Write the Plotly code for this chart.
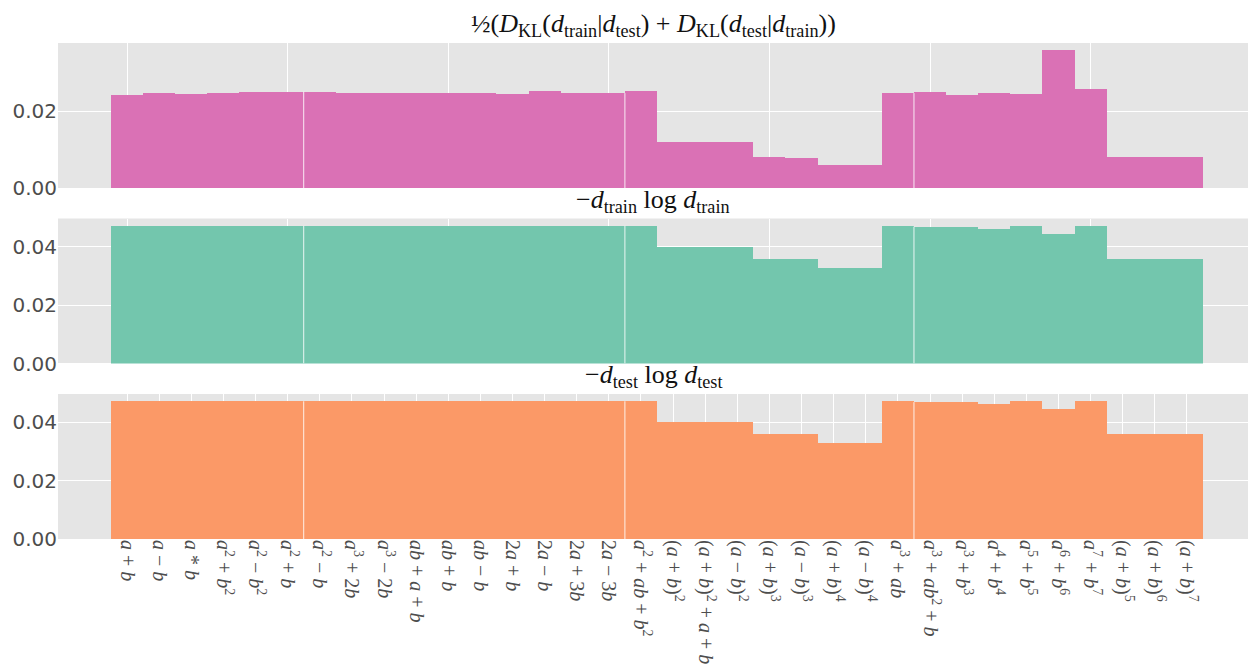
import plotly.graph_objects as go
from plotly.subplots import make_subplots

# ---------------- data ----------------
categories = [
    "a+b", "a-b", "a*b", "a^2+b^2", "a^2-b^2", "a^2+b",
    "a^2-b", "a^3+2b", "a^3-2b", "ab+a+b", "ab+b", "ab-b", "2a+b", "2a-b", "2a+3b", "2a-3b",
    "a^2+ab+b^2", "(a+b)^2", "(a+b)^2+a+b", "(a-b)^2", "(a+b)^3", "(a-b)^3", "(a+b)^4", "(a-b)^4", "a^3+ab",
    "a^3+ab^2+b", "a^3+b^3", "a^4+b^4", "a^5+b^5", "a^6+b^6", "a^7+b^7", "(a+b)^5", "(a+b)^6", "(a+b)^7",
]
group_sizes = [6, 10, 9, 9]

kl_sym = [
    0.0243, 0.0248, 0.0246, 0.0248, 0.0251, 0.0252,
    0.0252, 0.0247, 0.0247, 0.0248, 0.0248, 0.0248, 0.0246, 0.0254, 0.0248, 0.0248,
    0.0254, 0.0121, 0.0121, 0.0121, 0.0082, 0.0079, 0.0061, 0.0061, 0.0248,
    0.0251, 0.0243, 0.0248, 0.0246, 0.0360, 0.0259, 0.0082, 0.0082, 0.0082,
]
ent_train = [
    0.0471, 0.0471, 0.0471, 0.0471, 0.0471, 0.0471,
    0.0471, 0.0471, 0.0471, 0.0471, 0.0471, 0.0471, 0.0471, 0.0471, 0.0471, 0.0471,
    0.0471, 0.0400, 0.0400, 0.0400, 0.0359, 0.0359, 0.0329, 0.0329, 0.0471,
    0.0468, 0.0468, 0.0462, 0.0471, 0.0444, 0.0471, 0.0359, 0.0359, 0.0359,
]
ent_test = [
    0.0471, 0.0471, 0.0471, 0.0471, 0.0471, 0.0471,
    0.0471, 0.0471, 0.0471, 0.0471, 0.0471, 0.0471, 0.0471, 0.0471, 0.0471, 0.0471,
    0.0471, 0.0400, 0.0400, 0.0400, 0.0359, 0.0359, 0.0329, 0.0329, 0.0471,
    0.0468, 0.0468, 0.0462, 0.0471, 0.0444, 0.0471, 0.0359, 0.0359, 0.0359,
]

titles = [
    "½(<i>D</i><sub>KL</sub>(<i>d</i><sub>train</sub>|<i>d</i><sub>test</sub>) + "
    "<i>D</i><sub>KL</sub>(<i>d</i><sub>test</sub>|<i>d</i><sub>train</sub>))",
    "−<i>d</i><sub>train</sub> log <i>d</i><sub>train</sub>",
    "−<i>d</i><sub>test</sub> log <i>d</i><sub>test</sub>",
]
colors = ["#DA71B5", "#73C6AD", "#FB9967"]

SERIF = "Liberation Serif"
SANS = "DejaVu Sans"


def to_html(expr):
    out = ""
    i = 0
    while i < len(expr):
        c = expr[i]
        if c == "^":
            out += "<sup>" + expr[i + 1] + "</sup>"
            i += 2
            continue
        if c in "ab":
            out += "<i>" + c + "</i>"
        elif c == "+":
            out += " + "
        elif c == "-":
            out += " − "
        elif c == "*":
            out += " * "
        else:
            out += c
        i += 1
    return out


labels = [to_html(c) for c in categories]
series = [kl_sym, ent_train, ent_test]

fig = make_subplots(rows=3, cols=1, shared_xaxes=True, vertical_spacing=0.0615,
                    subplot_titles=titles)

for r, (vals, col) in enumerate(zip(series, colors), start=1):
    fig.add_trace(go.Bar(x=labels, y=vals, marker=dict(color=col, line=dict(width=0)),
                         showlegend=False, width=1.0), row=r, col=1)
    # thin separators between groups of formulas
    pos = 0
    for g in group_sizes[:-1]:
        pos += g
        yref = "y" if r == 1 else "y%d" % r
        xref = "x" if r == 1 else "x%d" % r
        fig.add_shape(type="line", xref=xref, yref=yref,
                      x0=pos - 0.5, x1=pos - 0.5, y0=0, y1=min(vals[pos - 1], vals[pos]),
                      line=dict(color="rgba(255,255,255,0.85)", width=1), layer="above")

for a in fig.layout.annotations:
    a.font = dict(family=SERIF, size=26, color="#111")

fig.update_layout(
    width=1248, height=671,
    margin=dict(l=58, r=0, t=43, b=132, autoexpand=False),
    paper_bgcolor="white", plot_bgcolor="#E5E5E5",
    bargap=0,
    font=dict(family=SERIF, size=20, color="#4d4d4d"),
)
fig.update_xaxes(range=[-2.15, 34.9], showgrid=True, gridcolor="white", gridwidth=1,
                 ticks="", showline=False, zeroline=False, automargin=False)
fig.update_xaxes(tickmode="array", tickvals=labels[::5], showticklabels=False, row=1, col=1)
fig.update_xaxes(tickmode="array", tickvals=labels[::5], showticklabels=False, row=2, col=1)
fig.update_yaxes(showgrid=True, gridcolor="white", gridwidth=1, zeroline=True,
                 zerolinecolor="white", zerolinewidth=1, ticks="", tickformat=".2f",
                 dtick=0.02, rangemode="tozero", automargin=False,
                 tickfont=dict(family=SANS, size=20, color="#4d4d4d"))
fig.update_xaxes(tickmode="array", tickvals=labels, ticktext=labels, tickangle=90,
                 tickfont=dict(family=SERIF, size=20, color="#4d4d4d"), row=3, col=1)

fig.write_html("out.html", config={"displayModeBar": False},
               post_script="document.body.style.margin='0';document.body.style.overflow='hidden';")
